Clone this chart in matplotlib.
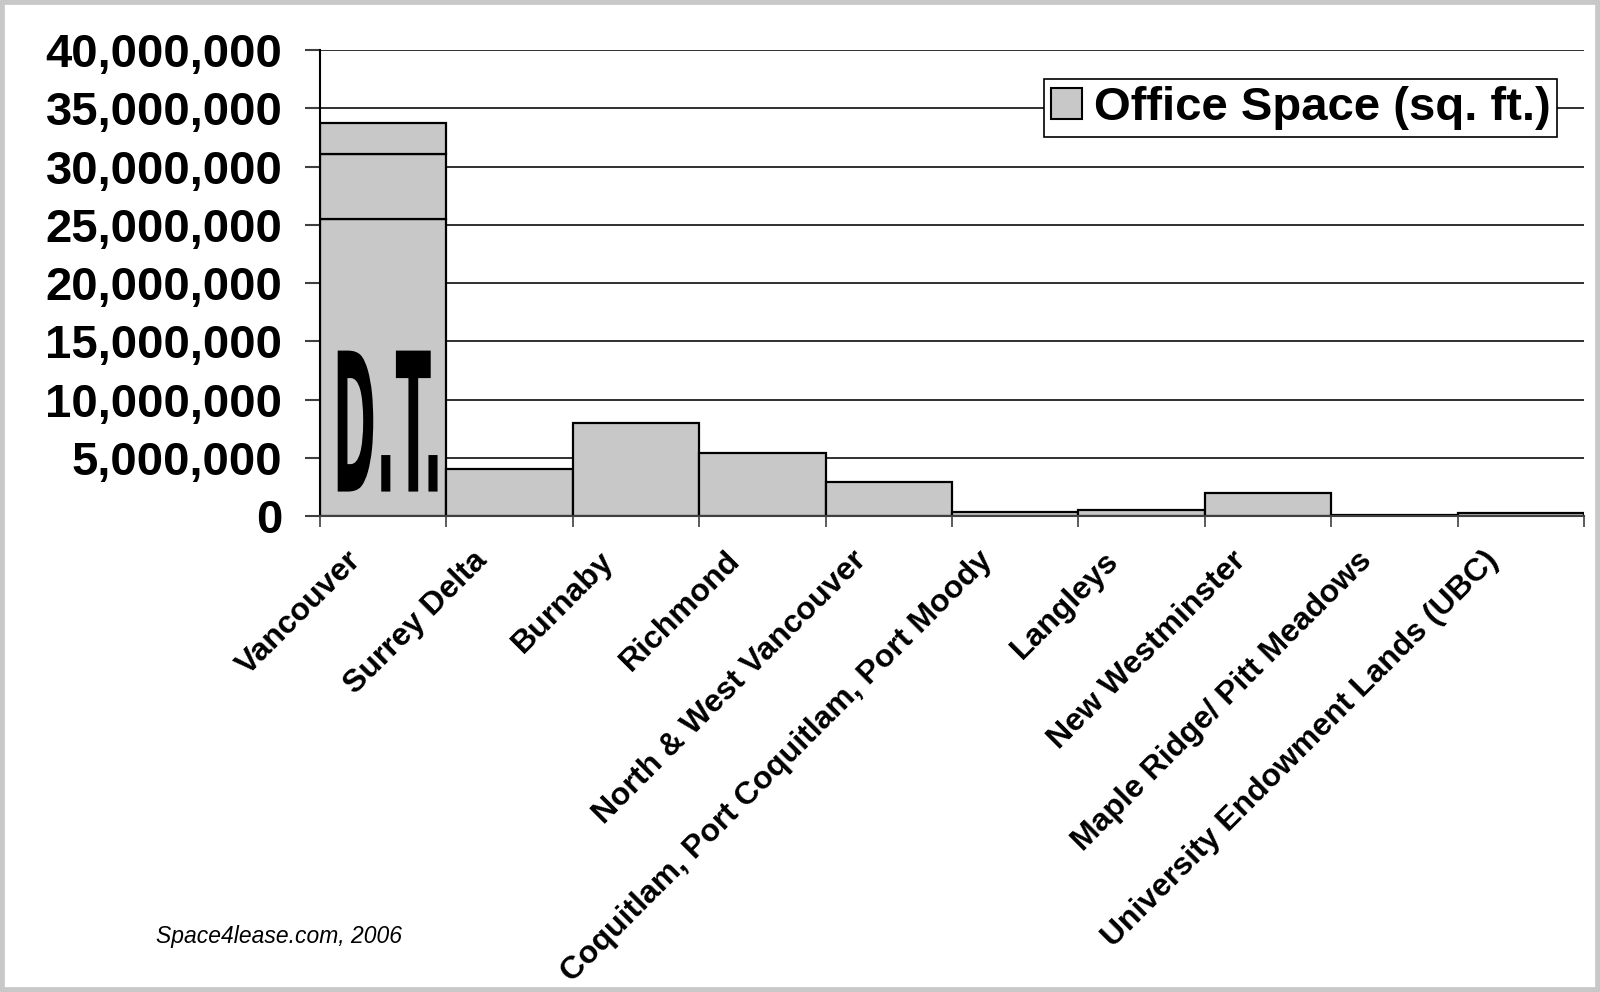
import numpy as np
import matplotlib
matplotlib.use("Agg")
import matplotlib.pyplot as plt
import matplotlib.transforms as mtransforms
from matplotlib.patches import Rectangle, PathPatch
from matplotlib.textpath import TextPath
from matplotlib.font_manager import FontProperties
from matplotlib.ticker import FuncFormatter

categories = ["Vancouver", "Surrey Delta", "Burnaby", "Richmond",
              "North & West Vancouver", "Coquitlam, Port Coquitlam, Port Moody",
              "Langleys", "New Westminster", "Maple Ridge/ Pitt Meadows",
              "University Endowment Lands (UBC)"]
office_space = [33.75e6, 4.0e6, 7.95e6, 5.4e6, 2.9e6, 0.35e6, 0.5e6, 1.95e6, 0.12e6, 0.25e6]
# the Vancouver bar is drawn as three stacked pieces in the original
vancouver_parts = [25.5e6, 5.55e6, 2.7e6]
y_ticks = np.arange(0, 40_000_001, 5_000_000)
legend_label = "Office Space (sq. ft.)"
source_note = "Space4lease.com, 2006"

plt.rcParams['font.family'] = ['Liberation Sans', 'DejaVu Sans']

BAR_COLOR = '#c8c8c8'

fig = plt.figure(figsize=(16, 9.92), dpi=100)
ax = fig.add_axes([0.2, 0.4798, 0.79, 0.4698])

x = np.arange(len(categories))

# Vancouver stacked pieces
bottom = 0
for part in vancouver_parts:
    ax.bar(x[0], part, bottom=bottom, width=1.0, color=BAR_COLOR,
           edgecolor='black', linewidth=1.6, zorder=2)
    bottom += part

ax.bar(x[1:], office_space[1:], width=1.0, color=BAR_COLOR,
       edgecolor='black', linewidth=1.6, zorder=2)

ax.set_xlim(-0.5, len(categories) - 0.5)
ax.set_ylim(0, 40_000_000)

# y axis
ax.set_yticks(y_ticks)
ax.yaxis.set_major_formatter(FuncFormatter(lambda v, p: f"{v:,.0f}"))
ax.tick_params(axis='y', length=11, width=1.5, color='#404040', pad=16,
               labelsize=34)
for lab in ax.get_yticklabels():
    lab.set_fontweight('bold')
ax.yaxis.grid(True, color='#303030', linewidth=1.4)
ax.set_axisbelow(True)

# x axis: boundary ticks + rotated labels
ax.set_xticks(np.arange(-0.5, len(categories), 1.0), minor=True)
ax.tick_params(axis='x', which='minor', length=8, width=1.2, color='#404040')
ax.set_xticks(x)
ax.set_xticklabels(categories, rotation=45, ha='right', va='center',
                   rotation_mode='anchor', fontsize=23, fontweight='bold')
ax.tick_params(axis='x', which='major', length=0, pad=29)
shift = mtransforms.ScaledTranslation(-0.27, 0, fig.dpi_scale_trans)
for lab in ax.get_xticklabels():
    lab.set_transform(lab.get_transform() + shift)

for side in ['top', 'right']:
    ax.spines[side].set_visible(False)
ax.spines['left'].set_linewidth(1.5)
ax.spines['bottom'].set_linewidth(1.5)
ax.spines['bottom'].set_color('#404040')

# legend
handle = Rectangle((0, 0), 1, 1, facecolor=BAR_COLOR, edgecolor='black', linewidth=1.5)
leg = ax.legend([handle], [legend_label], loc='upper right',
                bbox_to_anchor=(0.979, 0.938), frameon=True, fancybox=False,
                prop={'size': 34, 'weight': 'bold'}, handlelength=0.65,
                handleheight=0.65, handletextpad=0.25, borderpad=0.15,
                borderaxespad=0)
leg.get_frame().set_edgecolor('black')
leg.get_frame().set_linewidth(1.2)
leg.get_frame().set_alpha(1)

# "D.T." stamp on the Vancouver bar
tp = TextPath((0, 0), "D.T.", size=1,
              prop=FontProperties(family='DejaVu Sans', weight='bold'))
ext = tp.get_extents()
x0, x1 = -0.36, 0.43
y0, y1 = 2.1e6, 14.2e6
tr = (mtransforms.Affine2D().translate(-ext.x0, -ext.y0)
      .scale((x1 - x0) / ext.width, (y1 - y0) / ext.height)
      .translate(x0, y0))
ax.add_patch(PathPatch(tr.transform_path(tp), facecolor='black',
                       edgecolor='none', zorder=3))

fig.text(156 / 1600, 1 - 937 / 992, source_note, style='italic', fontsize=16.5,
         va='center', ha='left')

# light grey frame round the picture
fig.add_artist(Rectangle((0, 0), 1, 1, transform=fig.transFigure, fill=False,
                         edgecolor='#c8c8c8', linewidth=7))

fig.savefig("out.png", dpi=100)
